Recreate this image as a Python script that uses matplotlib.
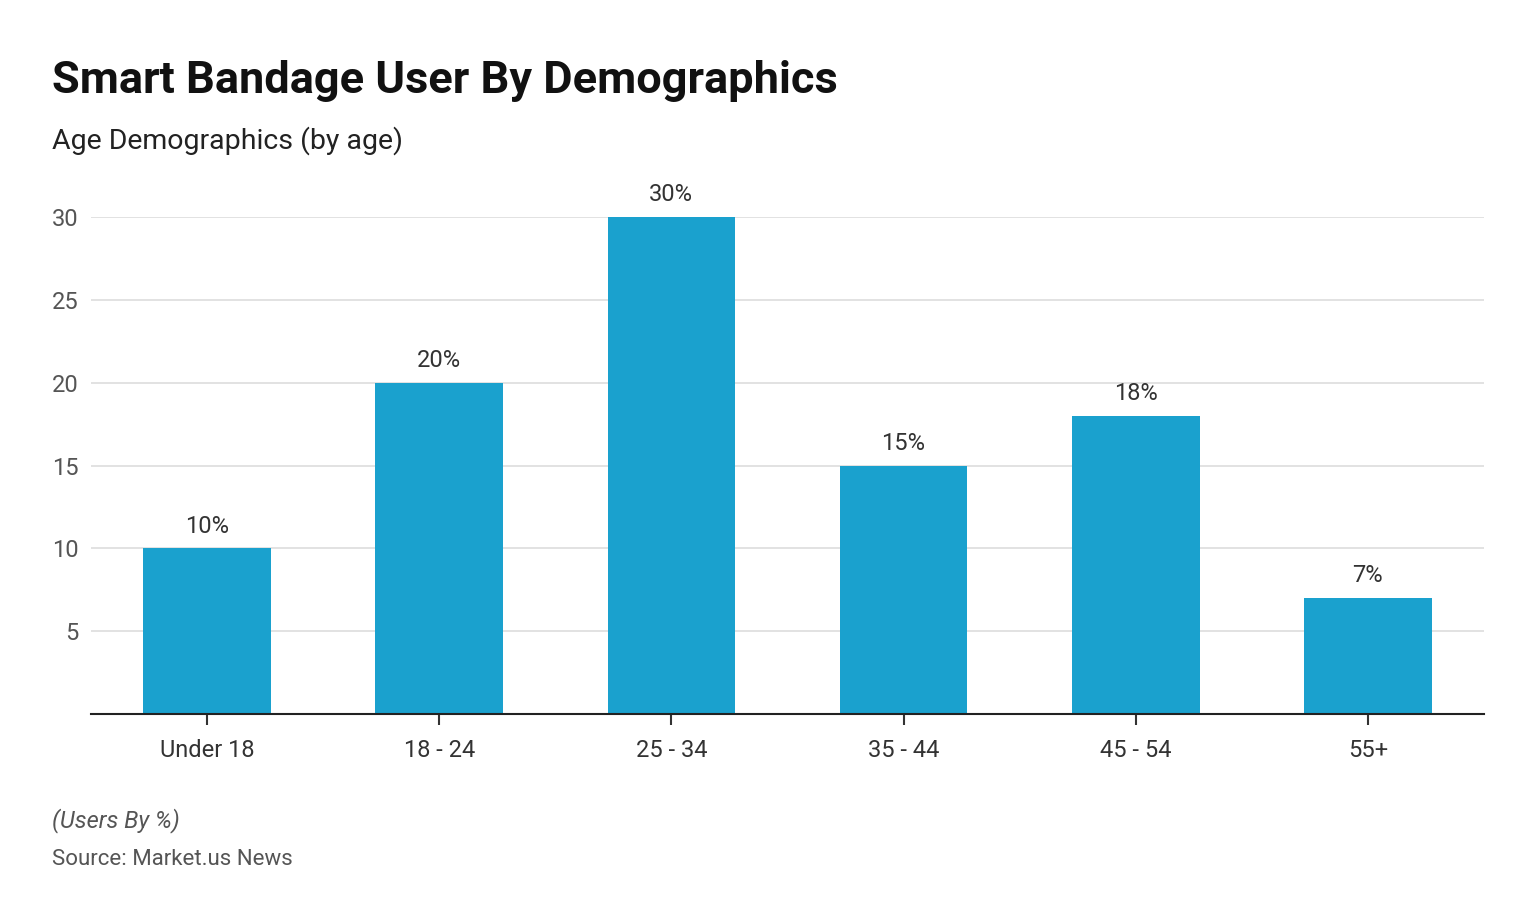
import matplotlib.pyplot as plt

plt.rcParams['font.family'] = ['Roboto', 'DejaVu Sans']

categories = ['Under 18', '18 - 24', '25 - 34', '35 - 44', '45 - 54', '55+']
values = [10, 20, 30, 15, 18, 7]
yticks = [5, 10, 15, 20, 25, 30]

fig = plt.figure(figsize=(15.36, 9.22), dpi=100)
ax = fig.add_axes([0.0592, 0.2256, 0.9069, 0.539])

x = range(len(categories))
ax.bar(x, values, width=0.55, color='#1aa1ce', zorder=2)
for i, v in zip(x, values):
    ax.text(i, v + 0.65, f'{v}%', ha='center', va='bottom', fontsize=17,
            color='#333333', clip_on=False)

ax.set_xlim(-0.5, len(categories) - 0.5)
ax.set_ylim(0, 30)
ax.set_yticks(yticks)
ax.set_yticklabels([str(t) for t in yticks])
ax.set_xticks(list(x))
ax.set_xticklabels(categories)
ax.grid(axis='y', color='#dddddd', linewidth=1.2, zorder=0)
ax.tick_params(axis='y', length=0, labelsize=17, labelcolor='#555555', pad=9)
ax.tick_params(axis='x', length=8, width=1.5, color='#333333', labelsize=17,
               labelcolor='#333333', pad=10)
for s in ['top', 'right', 'left']:
    ax.spines[s].set_visible(False)
ax.spines['bottom'].set_color('#222222')
ax.spines['bottom'].set_linewidth(1.5)
ax.spines['bottom'].set_zorder(3)

fig.text(0.034, 0.912, 'Smart Bandage User By Demographics', fontsize=32.5,
         fontweight='bold', color='#111111', va='center')
fig.text(0.034, 0.847, 'Age Demographics (by age)', fontsize=20.5,
         color='#222222', va='center')
fig.text(0.034, 0.110, '(Users By %)', fontsize=17, style='italic',
         color='#555555', va='center')
fig.text(0.034, 0.068, 'Source: Market.us News', fontsize=16,
         color='#555555', va='center')

fig.savefig('out.png', dpi=100, facecolor='white')
